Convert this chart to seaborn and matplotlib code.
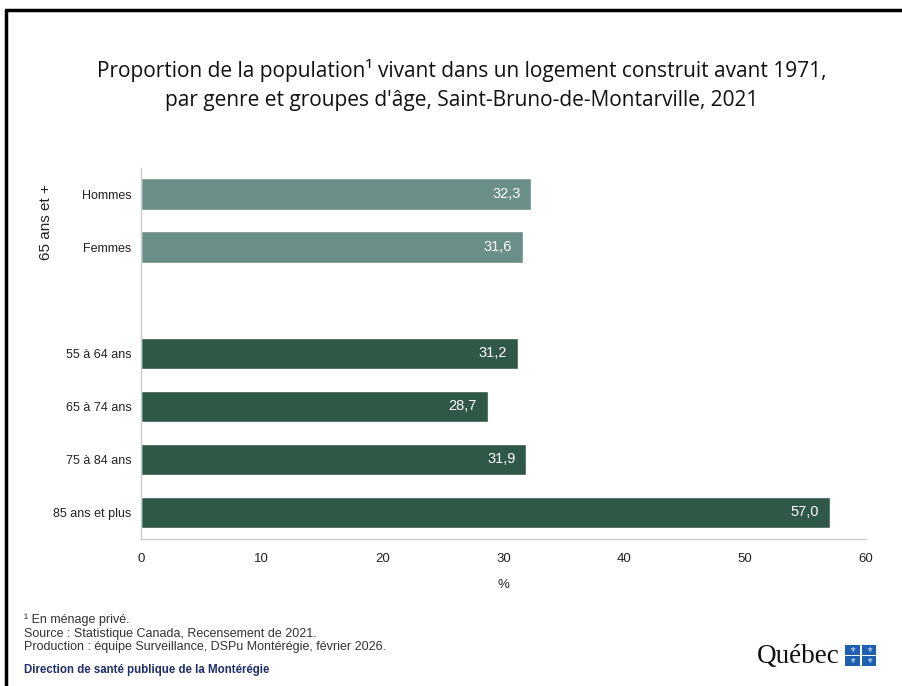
import pandas as pd
import matplotlib.pyplot as plt
import matplotlib.patches as mpatches
import seaborn as sns

# data
labels = ["Hommes", "Femmes", "", "55 à 64 ans", "65 à 74 ans", "75 à 84 ans", "85 ans et plus"]
values = [32.3, 31.6, None, 31.2, 28.7, 31.9, 57.0]
groups = ["genre", "genre", "", "age", "age", "age", "age"]
xticks = [0, 10, 20, 30, 40, 50, 60]

light = "#6a8f88"
dark = "#2f5846"

df = pd.DataFrame({"label": labels, "value": values, "group": groups})
df_bars = df.dropna()
palette = {lab: (light if g == "genre" else dark) for lab, g in zip(labels, groups) if lab}

sns.set_style("white")
plt.rcParams["font.family"] = ["Liberation Sans", "DejaVu Sans"]

fig = plt.figure(figsize=(9.02, 6.86), dpi=100)
ax = fig.add_axes([0.1563, 0.2143, 0.8037, 0.541])

sns.barplot(data=df_bars, x="value", y="label", hue="label", order=labels,
            palette=palette, orient="h", width=0.6, legend=False, ax=ax,
            saturation=1)

for i, (lab, v) in enumerate(zip(labels, values)):
    if v is None:
        continue
    ax.text(v - 0.9, i, f"{v:.1f}".replace(".", ","), ha="right", va="center",
            color="white", fontsize=10.5)

ax.set_xlim(0, 60)
ax.set_ylim(6.5, -0.5)
ax.set_xticks(xticks)
ax.set_xticklabels([str(t) for t in xticks], fontsize=9.5, color="#222222")
ax.tick_params(axis="x", length=4, color="#bbbbbb", pad=6)
ax.tick_params(axis="y", length=0, pad=7, labelsize=9, labelcolor="#222222")
ax.set_xlabel("%", fontsize=9.5, labelpad=10)
ax.set_ylabel("")
for s in ["top", "right"]:
    ax.spines[s].set_visible(False)
for s in ["left", "bottom"]:
    ax.spines[s].set_color("#cccccc")
    ax.spines[s].set_linewidth(1)

# group label for 65 ans et +
fig.text(0.051, 0.677, "65 ans et +", rotation=90, ha="center", va="center", fontsize=11, color="#222222")

# title
fig.text(0.512, 0.876, "Proportion de la population\u00b9 vivant dans un logement construit avant 1971,\n"
         "par genre et groupes d'âge, Saint-Bruno-de-Montarville, 2021",
         ha="center", va="center", fontsize=15, family=["Open Sans", "DejaVu Sans"],
         linespacing=1.45, color="#111111")

# footnotes
fig.text(0.0265, 0.106, "\u00b9 En ménage privé.\nSource : Statistique Canada, Recensement de 2021.\n"
         "Production : équipe Surveillance, DSPu Montérégie, février 2026.",
         ha="left", va="top", fontsize=9, color="#333333", linespacing=1.2)
fig.text(0.0265, 0.024, "Direction de santé publique de la Montérégie", ha="left", va="center",
         fontsize=8.3, fontweight="bold", color="#1f2d6b")

# Québec logo
fig.text(0.931, 0.043, "Québec", ha="right", va="center", fontsize=19.5,
         family=["Liberation Serif", "DejaVu Serif"], color="#111111")
blue = "#1f5fb0"
for dx in (0, 1):
    for dy in (0, 1):
        x0 = 0.937 + dx * 0.0185
        y0 = 0.029 + dy * 0.0165
        fig.patches.append(mpatches.Rectangle((x0, y0), 0.016, 0.0145, transform=fig.transFigure,
                                              facecolor=blue, edgecolor="none"))
        fig.text(x0 + 0.008, y0 + 0.0072, "\u269c", ha="center", va="center", fontsize=5,
                 color="white", family=["DejaVu Sans"])

# slide frame
fig.lines.append(plt.Line2D([0.0065, 1.0], [0.985, 0.985], transform=fig.transFigure, color="black", lw=2.5))
fig.lines.append(plt.Line2D([0.0065, 0.0065], [0.0, 0.985], transform=fig.transFigure, color="black", lw=2.5))

fig.savefig("out.png", dpi=100, facecolor="white")
